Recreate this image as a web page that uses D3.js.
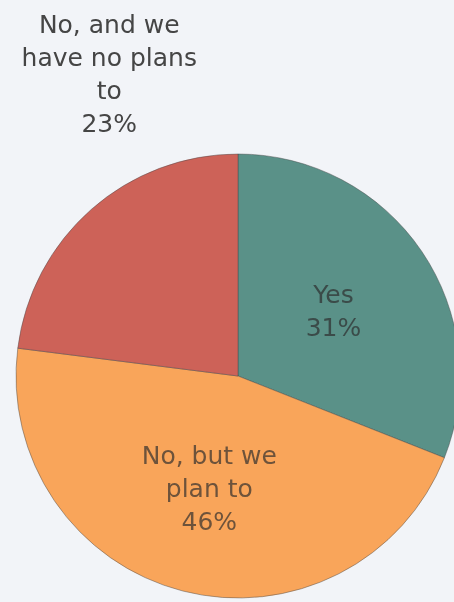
<!DOCTYPE html>
<html>
<head>
<meta charset="utf-8">
<script src="https://cdn.jsdelivr.net/npm/d3@7"></script>
<style>
  html, body { margin: 0; padding: 0; background: #f2f4f8; }
  svg { display: block; }
</style>
</head>
<body>
<div id="chart"></div>
<script>
//Size of the picture.
let w = 454
let h = 602

//Slices of the pie, in drawing order (clockwise from the top).
let categories = ["Yes", "No, but we plan to", "No, and we have no plans to"]
let values = [31, 46, 23]
let colors = ["#5a9188", "#f9a55a", "#cd6259"]

//Label lines for every slice.
let labelLines = [
  ["Yes", "31%"],
  ["No, but we", "plan to", "46%"],
  ["No, and we", "have no plans", "to", "23%"]
]

//Pie geometry.
let cx = 238
let cy = 376
let radius = 222
let lineH = 33

const svg = d3.select("#chart")
  .append("svg")
  .attr("width", w)
  .attr("height", h)

//A soft blur, the reference looks upscaled.
svg.append("defs")
  .append("filter")
  .attr("id", "soft")
  .append("feGaussianBlur")
  .attr("stdDeviation", 0.6)

const g = svg.append("g")
  .attr("filter", "url(#soft)")

const pie = d3.pie()
  .sort(null)
  .value(d => d)

const arc = d3.arc()
  .innerRadius(0)
  .outerRadius(radius)

const arcs = pie(values)

const pieG = g.append("g")
  .attr("transform", "translate(" + cx + "," + cy + ")")

pieG.selectAll("path")
  .data(arcs)
  .enter()
  .append("path")
  .attr("d", arc)
  .attr("fill", (d, i) => colors[i])
  .attr("stroke", "rgba(70,70,70,0.45)")
  .attr("stroke-width", 1)

//Inside labels sit about half way out along the middle of the slice.
const labelArc = d3.arc()
  .innerRadius(radius * 0.52)
  .outerRadius(radius * 0.52)

function drawLabel(lines, x, y, fill, opacity) {
  let t = g.append("text")
    .attr("text-anchor", "middle")
    .attr("font-family", "DejaVu Sans, sans-serif")
    .attr("font-size", 25)
    .attr("fill", fill)
    .attr("fill-opacity", opacity)
  let top = y - (lines.length - 1) * lineH / 2
  lines.forEach((s, k) => {
    t.append("tspan")
      .attr("x", x)
      .attr("y", top + k * lineH)
      .attr("dy", "0.35em")
      .text(s)
  })
}

arcs.forEach((d, i) => {
  if (i < 2) {
    let c = labelArc.centroid(d)
    drawLabel(labelLines[i], cx + c[0], cy + c[1], "#2b2b2b", 0.68)
  } else {
    //The small slice gets its label above the pie, on the left.
    drawLabel(labelLines[i], cx - radius * 0.58, 74, "#454545", 1)
  }
})
</script>
</body>
</html>
